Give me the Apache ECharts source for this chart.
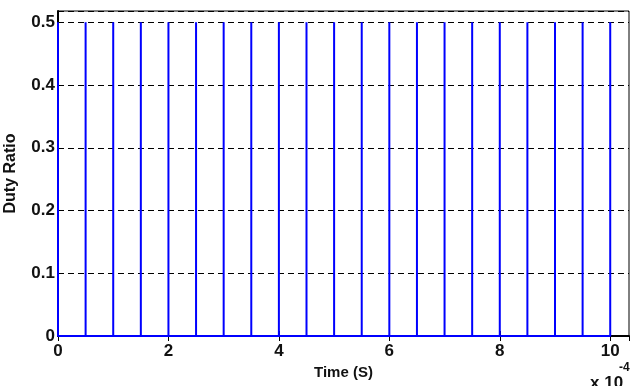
<!DOCTYPE html>
<html>
<head>
<meta charset="utf-8">
<script src="https://cdn.jsdelivr.net/npm/echarts@6/dist/echarts.min.js"></script>
<style>html,body{margin:0;padding:0;background:#fff}#c{width:630px;height:386px}</style>
</head>
<body>
<div id="c"></div>
<script>
// Data (time in units of 1e-4 s)
const pulseTimes = [0, 0.5, 1, 1.5, 2, 2.5, 3, 3.5, 4, 4.5, 5, 5.5, 6, 6.5, 7, 7.5, 8, 8.5, 9, 9.5, 10];
const pulseValues = [0.5, 0.5, 0.5, 0.5, 0.5, 0.5, 0.5, 0.5, 0.5, 0.5, 0.5, 0.5, 0.5, 0.5, 0.5, 0.5, 0.5, 0.5, 0.5, 0.5, 0.5];
const baseValue = 0;
const xTickLabels = ['0', '2', '4', '6', '8', '10'];
const yTickLabels = ['0', '0.1', '0.2', '0.3', '0.4', '0.5'];

const lineData = [];
pulseTimes.forEach((t, i) => {
  lineData.push([t, baseValue]);
  lineData.push([t, pulseValues[i]]);
  lineData.push([t, baseValue]);
});

const font = 'Liberation Sans, Arial, sans-serif';
const chart = echarts.init(document.getElementById('c'), null, {renderer: 'canvas'});
chart.setOption({
  animation: false,
  backgroundColor: '#fff',
  grid: {left: 58, right: 1, top: 11, bottom: 50, show: true, borderColor: '#000', borderWidth: 1,
         containLabel: false, outerBoundsMode: 'none'},
  xAxis: [{
    type: 'value', min: 0, max: 10.34, interval: 2,
    name: 'Time (S)', nameLocation: 'middle', nameGap: 28,
    nameTextStyle: {fontFamily: font, fontWeight: 'bold', fontSize: 15, color: '#111'},
    axisLine: {show: true, onZero: false, lineStyle: {color: '#000', width: 2}},
    axisTick: {show: true, inside: true, length: 5, lineStyle: {color: '#000'}},
    axisLabel: {
      fontFamily: font, fontWeight: 'bold', fontSize: 17, color: '#111', margin: 7,
      showMaxLabel: false,
      formatter: v => xTickLabels.indexOf(String(Math.round(v * 1000) / 1000)) >= 0 ? String(Math.round(v * 1000) / 1000) : ''
    },
    splitLine: {show: false}
  }, {
    type: 'value', position: 'top', min: 0, max: 10.34, interval: 2,
    axisLine: {show: true, lineStyle: {color: '#000', width: 1}},
    axisTick: {show: true, inside: true, length: 5, lineStyle: {color: '#000'}},
    axisLabel: {show: false}, splitLine: {show: false}
  }],
  yAxis: {
    type: 'value', min: 0, max: 0.518, interval: 0.1,
    name: 'Duty Ratio', nameLocation: 'middle', nameGap: 39, nameRotate: 90,
    nameTextStyle: {fontFamily: font, fontWeight: 'bold', fontSize: 16, color: '#111'},
    axisLine: {show: true, lineStyle: {color: '#000', width: 2}},
    axisTick: {show: true, inside: true, length: 5, lineStyle: {color: '#000'}},
    axisLabel: {
      fontFamily: font, fontWeight: 'bold', fontSize: 17, color: '#111', margin: 3,
      showMaxLabel: false,
      formatter: v => {
        const s = String(Math.round(v * 1000) / 1000);
        return yTickLabels.indexOf(s) >= 0 ? s : '';
      }
    },
    splitLine: {show: true, lineStyle: {color: '#000', type: [6, 4], width: 1.2}}
  },
  graphic: [{
    type: 'text', left: 590, top: 375,
    style: {text: 'x 10', font: 'bold 17px Liberation Sans, Arial, sans-serif', fill: '#111'}
  }, {
    type: 'text', left: 619, top: 362,
    style: {text: '-4', font: 'bold 12px Liberation Sans, Arial, sans-serif', fill: '#111'}
  }],
  series: [{
    type: 'line', data: lineData, showSymbol: false, symbol: 'none',
    lineStyle: {color: '#0000ff', width: 2}, xAxisIndex: 0, z: 3
  }]
});
</script>
</body>
</html>
